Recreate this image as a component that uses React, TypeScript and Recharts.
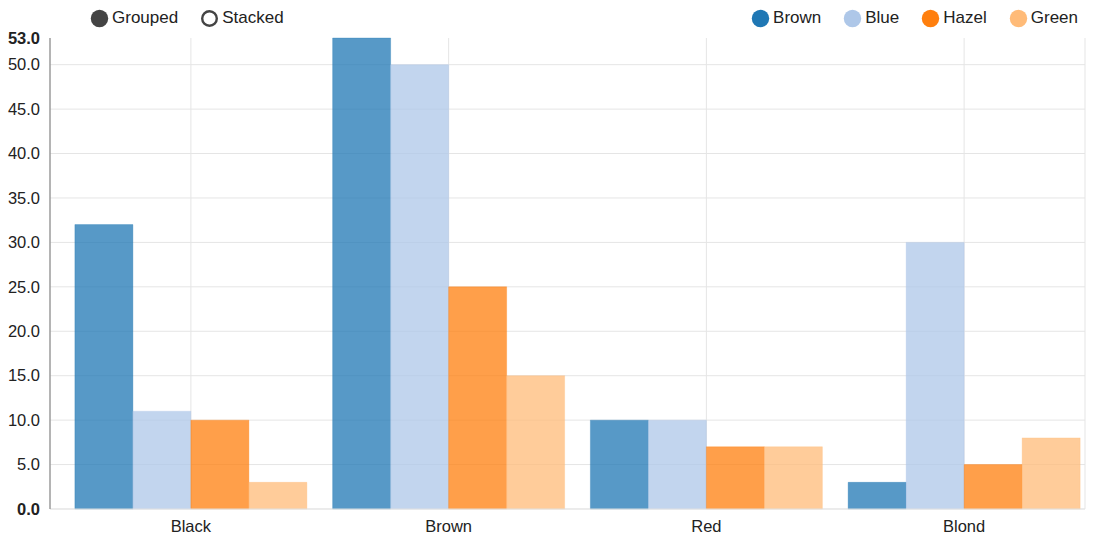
import React from "react";
import { BarChart, Bar, XAxis, YAxis, CartesianGrid } from "recharts";

const hairColors = ["Black", "Brown", "Red", "Blond"];
const eyeSeries = ["Brown", "Blue", "Hazel", "Green"];
const brownEyes = [32, 53, 10, 3];
const blueEyes = [11, 50, 10, 30];
const hazelEyes = [10, 25, 7, 5];
const greenEyes = [3, 15, 7, 8];
const seriesColors = ["#1f77b4", "#aec7e8", "#ff7f0e", "#ffbb78"];
const yTicks = [0, 5, 10, 15, 20, 25, 30, 35, 40, 45, 50, 53];
const gridValues = [0, 5, 10, 15, 20, 25, 30, 35, 40, 45, 50];
const modes = ["Grouped", "Stacked"];

const data = hairColors.map((hair, i) => ({
  hair,
  Brown: brownEyes[i],
  Blue: blueEyes[i],
  Hazel: hazelEyes[i],
  Green: greenEyes[i],
}));

const FONT = "'Liberation Sans', Arial, Helvetica, sans-serif";

const YTick = (props: any) => {
  const { x, y, payload } = props;
  const edge = payload.value === 0 || payload.value === 53;
  return (
    <text
      x={x - 2}
      y={y}
      dy="0.35em"
      textAnchor="end"
      fontSize={16.5}
      fontFamily={FONT}
      fontWeight={edge ? "bold" : "normal"}
      fill="#222"
    >
      {payload.value.toFixed(1)}
    </text>
  );
};

const XTick = (props: any) => {
  const { x, y, payload } = props;
  return (
    <text x={x} y={y + 15} textAnchor="middle" fontSize={16.5} fontFamily={FONT} fill="#222">
      {payload.value}
    </text>
  );
};

const LegendItem = ({ color, label, hollow }: { color: string; label: string; hollow?: boolean }) => (
  <div style={{ display: "flex", alignItems: "center" }}>
    <svg width={19} height={19} style={{ marginRight: 3 }}>
      {hollow ? (
        <circle cx={9.5} cy={9.5} r={7.3} fill="#fff" stroke={color} strokeWidth={2.4} />
      ) : (
        <circle cx={9.5} cy={9.5} r={8.7} fill={color} />
      )}
    </svg>
    <span>{label}</span>
  </div>
);

export default function App() {
  return (
    <div style={{ position: "absolute", left: 0, top: 0, width: 1099, height: 539, background: "#fff" }}>
      <div
        style={{
          position: "absolute",
          top: 8,
          left: 90,
          display: "flex",
          gap: 22,
          fontFamily: FONT,
          fontSize: 17,
          color: "#222",
        }}
      >
        {modes.map((m, i) => (
          <LegendItem key={m} label={m} color="#444" hollow={i === 1} />
        ))}
      </div>
      <div
        style={{
          position: "absolute",
          top: 8,
          right: 21,
          display: "flex",
          gap: 22,
          fontFamily: FONT,
          fontSize: 17,
          color: "#222",
        }}
      >
        {eyeSeries.map((s, i) => (
          <LegendItem key={s} label={s} color={seriesColors[i]} />
        ))}
      </div>
      <BarChart
        width={1099}
        height={539}
        data={data}
        margin={{ top: 38, right: 14, bottom: 0, left: 0 }}
        barCategoryGap="5%"
        barGap={0}
      >
        <CartesianGrid stroke="#e5e5e5" horizontalValues={gridValues} />
        <XAxis
          dataKey="hair"
          height={30}
          tickLine={false}
          axisLine={{ stroke: "#e5e5e5" }}
          tick={<XTick />}
          padding={{ left: 12, right: -8 }}
          interval={0}
        />
        <YAxis
          width={50}
          domain={[0, 53]}
          ticks={yTicks}
          interval={0}
          tickLine={false}
          axisLine={{ stroke: "#777" }}
          tick={<YTick />}
        />
        {eyeSeries.map((s, i) => (
          <Bar
            key={s}
            dataKey={s}
            fill={seriesColors[i]}
            fillOpacity={0.75}
            stroke={seriesColors[i]}
            strokeOpacity={0.3}
            isAnimationActive={false}
          />
        ))}
      </BarChart>
    </div>
  );
}
